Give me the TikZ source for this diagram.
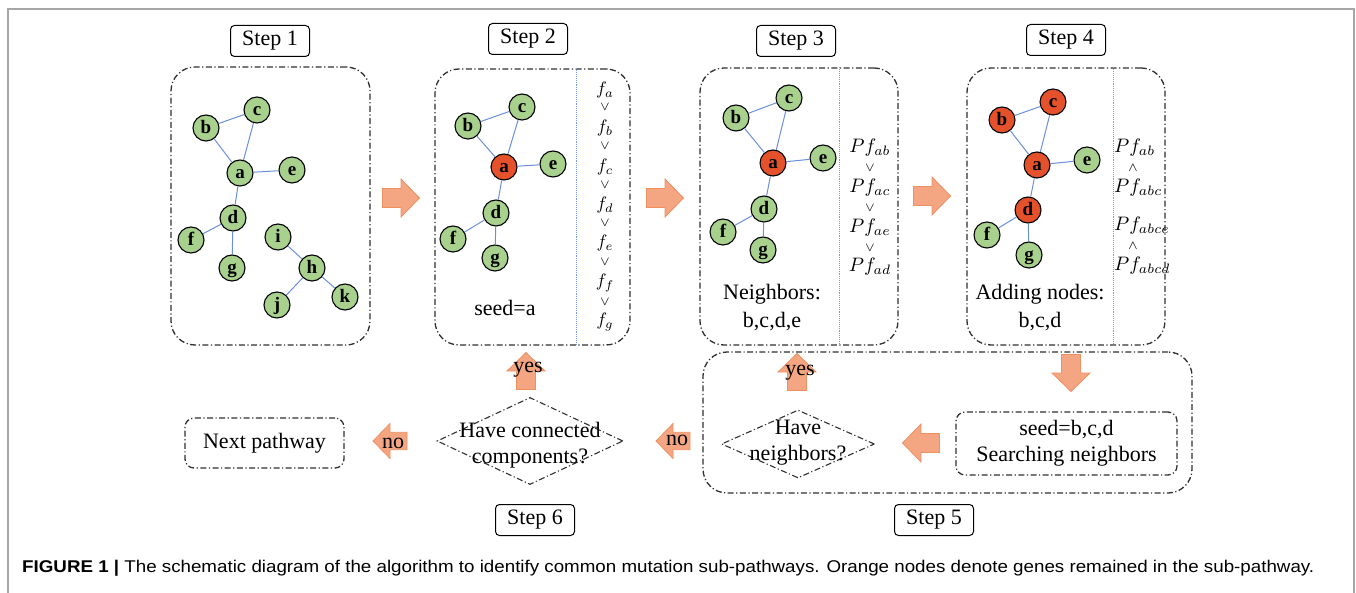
\documentclass[tikz,border=0pt]{standalone}
\usepackage{fontspec}
\setmainfont{Liberation Serif}
\newfontfamily\capfont{Liberation Sans}
\usetikzlibrary{shapes.geometric}
\newcommand\mymath[1]{\scalebox{1.8}{$#1$}}
\newcommand\mypf[1]{\scalebox{1.95}{$#1$}}
\definecolor{gfill}{HTML}{A9D18E}
\definecolor{ofill}{HTML}{E5512A}
\definecolor{eblue}{HTML}{6B8FDB}
\definecolor{vblue}{HTML}{7A9AE0}
\definecolor{afill}{HTML}{F4A582}
\definecolor{aedge}{HTML}{EE9060}
\definecolor{dk}{HTML}{303030}
\tikzset{
  gn/.style={circle, draw=black, line width=1.1pt, fill=gfill, minimum size=26pt, inner sep=0pt,
    text height=11pt, text depth=0pt, font=\fontsize{19}{19}\selectfont\bfseries},
  on/.style={gn, fill=ofill},
  edge/.style={draw=eblue, line width=1pt},
  dashdot/.style={draw=dk, line width=1.3pt, dash pattern=on 6pt off 2.5pt on 1.2pt off 2.5pt},
  panel/.style={dashdot, rounded corners=24pt, inner sep=0pt},
  dbox/.style={dashdot, rounded corners=9pt, inner sep=0pt, align=center, font=\fontsize{22}{26}\selectfont},
  diam/.style={diamond, dashdot, line width=1.1pt, inner sep=0pt},
  vline/.style={draw=vblue, line width=0.9pt, densely dotted},
  stepbox/.style={draw=black, line width=1pt, rounded corners=4pt, minimum width=79pt, minimum height=31pt,
    inner sep=0pt, font=\fontsize{22}{26}\selectfont},
  lbl/.style={font=\fontsize{22}{28}\selectfont, align=center, inner sep=0pt},
  mlbl/.style={inner sep=0pt},
  pics/barrow/.style={code={
    \draw[fill=afill, draw=aedge, line width=0.8pt]
      (-18.5,-9.5) -- (0,-9.5) -- (0,-19) -- (18.5,0) -- (0,19) -- (0,9.5) -- (-18.5,9.5) -- cycle;}},
}
\begin{document}
\begin{tikzpicture}[x=1pt,y=-1pt]
\useasboundingbox (0,0) rectangle (1356,593);
\draw[gray!70, line width=1.2pt] (8,593) -- (8,9) -- (1354,9) -- (1354,593);

% step labels
\node[stepbox] (st1) at (270,41) {Step 1};
\node[stepbox] (st2) at (528,39) {Step 2};
\node[stepbox] (st3) at (796,41) {Step 3};
\node[stepbox] (st4) at (1066,40) {Step 4};
\node[stepbox] (st6) at (535,520) {Step 6};
\node[stepbox] (st5) at (934,520) {Step 5};

% panels
\node[panel, minimum width=199pt, minimum height=278pt] (p1) at (270.5,206) {};
\node[panel, minimum width=195pt, minimum height=276pt] (p2) at (532.5,207) {};
\node[panel, minimum width=198pt, minimum height=277pt] (p3) at (799,206.5) {};
\node[panel, minimum width=198pt, minimum height=277pt] (p4) at (1066,206.5) {};
\coordinate (v2) at (576,0);
\coordinate (v3) at (839,0);
\coordinate (v4) at (1113,0);
\draw[vline] (p2.north -| v2) -- (p2.south -| v2);
\draw[vline] (p3.north -| v3) -- (p3.south -| v3);
\draw[vline] (p4.north -| v4) -- (p4.south -| v4);

% step 1 graph
\node[gn] (s1c) at (257,110) {c};
\node[gn] (s1b) at (206,128) {b};
\node[gn] (s1a) at (240,173) {a};
\node[gn] (s1e) at (292,170) {e};
\node[gn] (s1d) at (233,218) {d};
\node[gn] (s1f) at (191,240) {f};
\node[gn] (s1g) at (232,268) {g};
\node[gn] (s1i) at (278,237) {i};
\node[gn] (s1h) at (312,268) {h};
\node[gn] (s1j) at (277,305) {j};
\node[gn] (s1k) at (345,297) {k};
% step 2 graph
\node[gn] (s2c) at (522,107) {c};
\node[gn] (s2b) at (468,126) {b};
\node[on] (s2a) at (504,167) {a};
\node[gn] (s2e) at (553,164) {e};
\node[gn] (s2d) at (496,213) {d};
\node[gn] (s2f) at (453,239) {f};
\node[gn] (s2g) at (495,258) {g};
% step 3 graph
\node[gn] (s3c) at (789,98) {c};
\node[gn] (s3b) at (736,118) {b};
\node[on] (s3a) at (773,163) {a};
\node[gn] (s3e) at (823,158) {e};
\node[gn] (s3d) at (764,209) {d};
\node[gn] (s3f) at (723,232) {f};
\node[gn] (s3g) at (763,250) {g};
% step 4 graph
\node[on] (s4c) at (1053,102) {c};
\node[on] (s4b) at (1002,120) {b};
\node[on] (s4a) at (1037,165) {a};
\node[gn] (s4e) at (1087,160) {e};
\node[on] (s4d) at (1028,210) {d};
\node[gn] (s4f) at (987,235) {f};
\node[gn] (s4g) at (1029,255) {g};

\foreach \s in {1,2,3,4}
  \foreach \u/\v in {b/c,b/a,c/a,a/e,a/d,d/f,d/g}
    \draw[edge] (s\s\u) -- (s\s\v);
\draw[edge] (s1i) -- (s1h);
\draw[edge] (s1h) -- (s1j);
\draw[edge] (s1h) -- (s1k);

% panel texts
\node[lbl] (seeda) at (505,308) {seed=a};
\node[lbl] (neigh) at (772,308) {Neighbors:\\b,c,d,e};
\node[lbl] (addn) at (1040,308) {Adding nodes:\\b,c,d};

% formulas step 2
\foreach \t/\yy [count=\k] in {a/90,b/128,c/167,d/205,e/243,f/283,g/322}
  \node[mlbl] (fa\k) at (605,\yy) {\mymath{f_{\t}}};
\foreach \yy [count=\k] in {107,146,185,223,262,302}
  \node[mlbl] (fo\k) at (605,\yy) {\mymath{\scriptstyle\vee}};
% formulas step 3
\foreach \t/\yy [count=\k] in {ab/148,ac/188,ae/228,ad/267}
  \node[mlbl] (pf\k) at (870,\yy) {\mypf{Pf_{\t}}};
\foreach \yy [count=\k] in {168,208,248}
  \node[mlbl] (po\k) at (870,\yy) {\mymath{\scriptstyle\vee}};
% formulas step 4
\foreach \t/\yy [count=\k] in {ab/148,abc/188,abce/226,abcd/266}
  \node[mlbl, anchor=west] (pq\k) at (1114,\yy) {\mypf{Pf_{\t}}};
\node[mlbl] (pw1) at (1133,168) {\mymath{\scriptstyle\wedge}};
\node[mlbl] (pw2) at (1133,246) {\mymath{\scriptstyle\wedge}};

% block arrows between panels
\pic (ar1) at (401,198) {barrow};
\pic (ar2) at (665,198) {barrow};
\pic (ar3) at (932,196) {barrow};

% bottom row
\node[panel, minimum width=489pt, minimum height=141pt] (p5) at (947.5,422.5) {};
\pic[rotate=-90] (ar4) at (1071,373) {barrow};
\node[dbox, minimum width=221pt, minimum height=63pt] (seed) at (1066.5,443.5) {seed=b,c,d\\Searching neighbors};
\pic[rotate=180] (ar5) at (921,443) {barrow};
\node[diam, minimum width=153pt, minimum height=68pt] (dn) at (798,444) {};
\node[lbl, font=\fontsize{22}{26}\selectfont] (dnt) at (798,443) {Have\\neighbors?};
\pic[rotate=90] (ar6) at (797,372) {barrow};
\node[lbl] (yes1) at (800,373) {yes};
\pic[rotate=180, scale=0.92] (ar7) at (673,441) {barrow};
\node[lbl] (no1) at (677,440) {no};
\node[diam, minimum width=186pt, minimum height=87pt] (dc) at (530,441) {};
\node[lbl, font=\fontsize{22}{26}\selectfont] (dct) at (530,445) {Have connected\\components?};
\pic[rotate=90] (ar8) at (526,371) {barrow};
\node[lbl] (yes2) at (528,370) {yes};
\pic[rotate=180, scale=0.92] (ar9) at (390,441) {barrow};
\node[lbl] (no2) at (393,443) {no};
\node[dbox, minimum width=159pt, minimum height=50pt] (next) at (264.5,443) {Next pathway};

% caption
\node[anchor=base west, inner sep=0pt] (cap) at (22,572)
  {\resizebox{1292pt}{\height}{\capfont\fontsize{17}{20}\selectfont\textbf{FIGURE 1 |} The schematic diagram of the algorithm to identify common mutation sub-pathways. Orange nodes denote genes remained in the sub-pathway.}};
\end{tikzpicture}
\end{document}
